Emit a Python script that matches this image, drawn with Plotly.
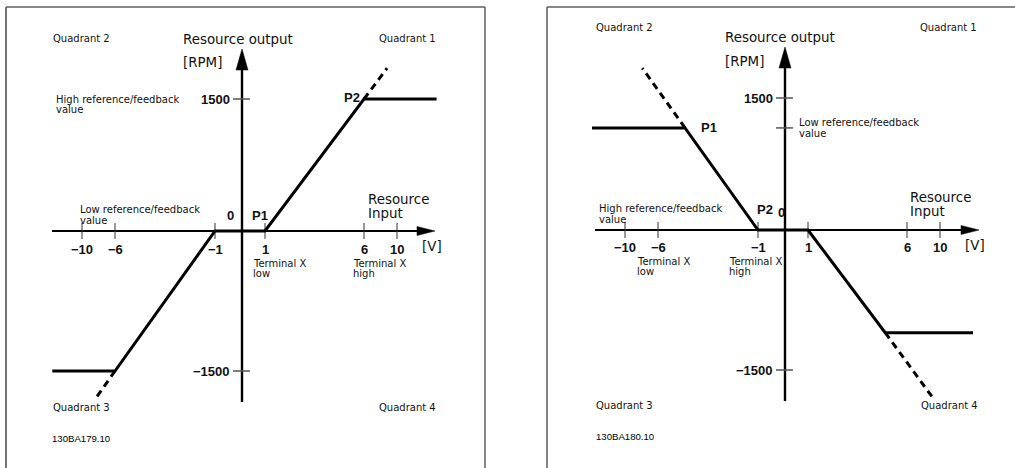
import numpy as np
import plotly.graph_objects as go

# ---------------- data ----------------
# input-voltage ticks on the horizontal axis [V]
X_TICK_VALUES = [-10, -6, -1, 1, 6, 10]
X_TICK_LABELS = ["\u221210", "\u22126", "\u22121", "1", "6", "10"]

# output ticks on the vertical axis [RPM]
LEFT_Y_TICKS = [1500, -1500]
LEFT_Y_LABELS = ["1500", "\u22121500"]
RIGHT_Y_TICKS = [1500, 1160, -1500]
RIGHT_Y_LABELS = ["1500", "", "\u22121500"]

# left diagram (normal characteristic): input [V] -> output [RPM]
left_v = [-13.6, -6, -1, 1, 6, 14.8]
left_rpm = [-1500, -1500, 0, 0, 1500, 1500]
left_up_v = [6, 8.8]
left_up_rpm = [1500, 1850]
left_dn_v = [-6, -8.4]
left_dn_rpm = [-1500, -1800]

# right diagram (inverse characteristic)
right_v = [-14.0, -4.65, -1, 1, 4.9, 14.0]
right_rpm = [1160, 1160, 0, 0, -1100, -1100]
right_up_v = [-4.65, -7.9]
right_up_rpm = [1160, 1840]
right_dn_v = [4.9, 9.15]
right_dn_rpm = [-1100, -1800]

# schematic (not-to-scale) axes of the drawing
V_KNOTS = [-10, -6, -1, 0, 1, 6, 10]
V_POS = [-160, -127, -27, 0, 23, 122, 155]
RPM_KNOTS = [-1500, 0, 1500]
RPM_POS = [-140, 0, 132]


def scale(vals, knots, pos):
    vals = np.asarray(vals, dtype=float)
    out = np.interp(vals, knots, pos)
    lo_s = (pos[1] - pos[0]) / (knots[1] - knots[0])
    hi_s = (pos[-1] - pos[-2]) / (knots[-1] - knots[-2])
    out = np.where(vals < knots[0], pos[0] + (vals - knots[0]) * lo_s, out)
    out = np.where(vals > knots[-1], pos[-1] + (vals - knots[-1]) * hi_s, out)
    return out.tolist()


def sx(v):
    return scale(v, V_KNOTS, V_POS)


def sy(r):
    return scale(r, RPM_KNOTS, RPM_POS)


W, H = 1015, 468
SPLIT = 505
# drawing origins (pixel) of each panel
ORIG = {"L": (242, 231), "R": (785, 230)}
AX = {"L": ("x", "y"), "R": ("x2", "y2")}

fig = go.Figure()

BLACK = "#000000"
TXT = "#111111"
SMALL = dict(family="DejaVu Sans", size=10, color=TXT)
MED = dict(family="DejaVu Sans", size=13.4, color=TXT)
BOLD = dict(family="Liberation Sans", size=13, color=TXT, weight="bold")
IDF = dict(family="Liberation Sans", size=9.6, color=BLACK)
DASH = "7px,5px"


def add_curve(panel, v, r, dash="solid"):
    xa, ya = AX[panel]
    fig.add_trace(go.Scatter(x=sx(v), y=sy(r), mode="lines", xaxis=xa, yaxis=ya,
                             line=dict(color=BLACK, width=3, dash=dash),
                             hoverinfo="skip", showlegend=False))


add_curve("L", left_v, left_rpm)
add_curve("L", left_up_v, left_up_rpm, DASH)
add_curve("L", left_dn_v, left_dn_rpm, DASH)
add_curve("R", right_v, right_rpm)
add_curve("R", right_up_v, right_up_rpm, DASH)
add_curve("R", right_dn_v, right_dn_rpm, DASH)

shapes = []
annots = []


def rel(panel, px, py):
    ox, oy = ORIG[panel]
    return px - ox, oy - py


def line(panel, x0, y0, x1, y1, color=BLACK, width=2):
    xa, ya = AX[panel]
    shapes.append(dict(type="line", xref=xa, yref=ya, x0=x0, y0=y0, x1=x1, y1=y1,
                       line=dict(color=color, width=width), layer="below"))


def tri(panel, pts):
    xa, ya = AX[panel]
    path = "M " + " L ".join(f"{a},{b}" for a, b in pts) + " Z"
    shapes.append(dict(type="path", xref=xa, yref=ya, path=path,
                       fillcolor=BLACK, line=dict(color=BLACK, width=0.5)))


def txt(panel, px, py, text, font, xanchor="left"):
    xa, ya = AX[panel]
    x, y = rel(panel, px, py)
    annots.append(dict(xref=xa, yref=ya, x=x, y=y, text=text, showarrow=False,
                       xanchor=xanchor, yanchor="middle", font=font, borderpad=0))


# axes of each drawing
for p in ("L", "R"):
    xa, ya = AX[p]
    xtip = 193 if p == "L" else 194
    ytip = 182 if p == "L" else 183
    line(p, -190, 0, xtip - 10, 0, width=2.2)
    line(p, 0, -171, 0, ytip - 12, width=2.4)
    tri(p, [(xtip, 0), (xtip - 18, 4.5), (xtip - 18, -4.5)])
    tri(p, [(0, ytip), (-6, ytip - 21), (6, ytip - 21)])
    # x ticks + labels
    lab_y = -18 if p == "L" else -17
    for v, lab, xp in zip(X_TICK_VALUES, X_TICK_LABELS, sx(X_TICK_VALUES)):
        line(p, xp, -8, xp, 8, color="#333333", width=1)
        annots.append(dict(xref=xa, yref=ya, x=xp, y=lab_y, text=lab, showarrow=False,
                           xanchor="center", yanchor="middle", font=BOLD, borderpad=0))
    # y ticks + labels
    ticks, labs = (LEFT_Y_TICKS, LEFT_Y_LABELS) if p == "L" else (RIGHT_Y_TICKS, RIGHT_Y_LABELS)
    for r, lab, yp in zip(ticks, labs, sy(ticks)):
        line(p, -9, yp, 8, yp, color="#555555", width=1.5)
        if lab:
            annots.append(dict(xref=xa, yref=ya, x=-11, y=yp, text=lab, showarrow=False,
                               xanchor="right", yanchor="middle", font=BOLD, borderpad=0))

# ---- left panel texts ----
txt("L", 52, 38, "Quadrant 2", SMALL)
txt("L", 182, 39, "Resource output", MED)
txt("L", 182, 62, "[RPM]", MED)
txt("L", 437, 38, "Quadrant 1", SMALL, "right")
txt("L", 55, 99, "High reference/feedback", SMALL)
txt("L", 55, 109, "value", SMALL)
txt("L", 343, 97, "P2", BOLD)
txt("L", 367, 199, "Resource", MED)
txt("L", 367, 213, "Input", MED)
txt("L", 79, 209, "Low reference/feedback", SMALL)
txt("L", 79, 220, "value", SMALL)
txt("L", 230, 215, "0", BOLD, "center")
txt("L", 251, 215, "P1", BOLD)
txt("L", 421, 246, "[V]", MED)
txt("L", 252, 263, "Terminal X", SMALL)
txt("L", 252, 273, "low", SMALL)
txt("L", 352, 263, "Terminal X", SMALL)
txt("L", 352, 273, "high", SMALL)
txt("L", 52, 407, "Quadrant 3", SMALL)
txt("L", 437, 407, "Quadrant 4", SMALL, "right")
txt("L", 51, 438, "130BA179.10", IDF)

# ---- right panel texts ----
txt("R", 595, 27, "Quadrant 2", SMALL)
txt("R", 724, 37, "Resource output", MED)
txt("R", 724, 61, "[RPM]", MED)
txt("R", 978, 27, "Quadrant 1", SMALL, "right")
txt("R", 700, 127, "P1", BOLD)
txt("R", 798, 122, "Low reference/feedback", SMALL)
txt("R", 798, 133, "value", SMALL)
txt("R", 909, 197, "Resource", MED)
txt("R", 909, 211, "Input", MED)
txt("R", 598, 208, "High reference/feedback", SMALL)
txt("R", 598, 219, "value", SMALL)
txt("R", 756, 209, "P2", BOLD)
txt("R", 777, 212, "0", BOLD)
txt("R", 964, 245, "[V]", MED)
txt("R", 636, 261, "Terminal X", SMALL)
txt("R", 636, 271, "low", SMALL)
txt("R", 728, 261, "Terminal X", SMALL)
txt("R", 728, 271, "high", SMALL)
txt("R", 595, 405, "Quadrant 3", SMALL)
txt("R", 979, 405, "Quadrant 4", SMALL, "right")
txt("R", 595, 436, "130BA180.10", IDF)


# ---- panel frames (paper coordinates from pixels) ----
def pline(x0, y0, x1, y1, color, width):
    shapes.append(dict(type="line", xref="paper", yref="paper",
                       x0=x0 / W, x1=x1 / W, y0=1 - y0 / H, y1=1 - y1 / H,
                       line=dict(color=color, width=width)))


pline(6, 7, 485, 7, "#111111", 1.2)
pline(6, 7, 6, H, "#666666", 1.8)
pline(485, 7, 485, H, "#444444", 1.3)
pline(547, 7, W, 7, "#111111", 1.2)
pline(547, 7, 547, H, "#444444", 1.3)

ax_common = dict(visible=False, fixedrange=True, showgrid=False, zeroline=False)
fig.update_layout(
    width=W, height=H, autosize=False,
    margin=dict(l=0, r=0, t=0, b=0, pad=0),
    paper_bgcolor="white", plot_bgcolor="white", showlegend=False,
    xaxis=dict(domain=[0, SPLIT / W], range=[0 - ORIG["L"][0], SPLIT - ORIG["L"][0]], **ax_common),
    yaxis=dict(domain=[0, 1], range=[ORIG["L"][1] - H, ORIG["L"][1]], **ax_common),
    xaxis2=dict(domain=[SPLIT / W, 1], range=[SPLIT - ORIG["R"][0], W - ORIG["R"][0]],
                anchor="y2", **ax_common),
    yaxis2=dict(domain=[0, 1], range=[ORIG["R"][1] - H, ORIG["R"][1]], anchor="x2", **ax_common),
    shapes=shapes, annotations=annots,
)

fig.write_html(
    "out.html",
    config={"displayModeBar": False},
    post_script="document.body.style.margin='0';document.body.style.overflow='hidden';",
)
